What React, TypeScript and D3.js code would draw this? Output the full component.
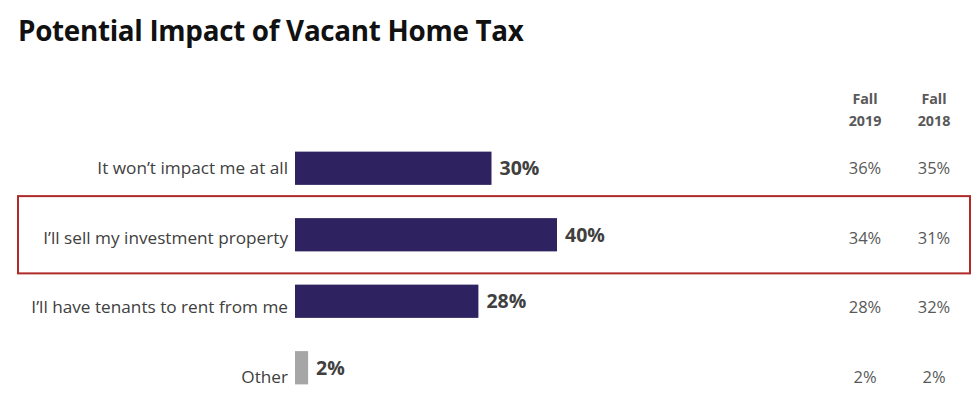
import { useEffect, useRef } from 'react'
import * as d3 from 'd3'

const WIDTH = 980
const HEIGHT = 394

const categories = [
  'It won’t impact me at all',
  'I’ll sell my investment property',
  'I’ll have tenants to rent from me',
  'Other',
]
const currentValues = [30, 40, 28, 2]
const fall2019 = [36, 34, 28, 2]
const fall2018 = [35, 31, 32, 2]
const columnHeaders = [
  ['Fall', '2019'],
  ['Fall', '2018'],
]
const highlighted = 'I’ll sell my investment property'

const FONT = '"Open Sans", Lato, sans-serif'
const BAR_COLOR = '#2e2360'
const OTHER_COLOR = '#a6a6a6'
const TEXT_COLOR = '#404040'

interface RowDatum {
  category: string
  value: number
  fall2019: number
  fall2018: number
}

export default function App() {
  const svgRef = useRef<SVGSVGElement | null>(null)

  useEffect(() => {
    if (!svgRef.current) {
      return
    }

    const svg = d3.select(svgRef.current)
    svg.selectAll('*').remove()

    const rows: RowDatum[] = categories.map((category, index) => ({
      category,
      value: currentValues[index],
      fall2019: fall2019[index],
      fall2018: fall2018[index],
    }))

    const x = d3.scaleLinear().domain([0, 40]).range([295, 557])

    const barY = d3
      .scaleBand<string>()
      .domain(categories)
      .range([135, 401])
      .paddingInner(0.5)
      .paddingOuter(0.25)

    // text rows drift a little lower than the bars in the original slide
    const textY = d3.scalePoint<string>().domain(categories).range([168, 377])

    const columnX = d3
      .scalePoint<string>()
      .domain(['2019', '2018'])
      .range([865, 934])

    svg
      .append('text')
      .attr('x', 18)
      .attr('y', 41)
      .attr('font-family', FONT)
      .attr('font-size', 27.8)
      .attr('font-weight', 700)
      .attr('letter-spacing', -0.3)
      .attr('fill', '#111111')
      .text('Potential Impact of Vacant Home Tax')

    // highlight box
    const box = barY(highlighted) ?? 0
    svg
      .append('rect')
      .attr('x', 18)
      .attr('y', box - 22)
      .attr('width', 952)
      .attr('height', barY.bandwidth() + 44)
      .attr('fill', 'none')
      .attr('stroke', '#b02a2a')
      .attr('stroke-width', 2)

    svg
      .selectAll('rect.bar')
      .data(rows)
      .enter()
      .append('rect')
      .attr('class', 'bar')
      .attr('x', x(0))
      .attr('y', (d: RowDatum) => barY(d.category) ?? 0)
      .attr('width', (d: RowDatum) => x(d.value) - x(0))
      .attr('height', barY.bandwidth())
      .attr('fill', (d: RowDatum) => (d.category === 'Other' ? OTHER_COLOR : BAR_COLOR))

    svg
      .selectAll('text.category')
      .data(rows)
      .enter()
      .append('text')
      .attr('class', 'category')
      .attr('x', 288)
      .attr('y', (d: RowDatum) => (textY(d.category) ?? 0) + 6)
      .attr('text-anchor', 'end')
      .attr('font-family', FONT)
      .attr('font-size', 17.2)
      .attr('fill', TEXT_COLOR)
      .text((d: RowDatum) => d.category)

    svg
      .selectAll('text.value')
      .data(rows)
      .enter()
      .append('text')
      .attr('class', 'value')
      .attr('x', (d: RowDatum) => x(d.value) + 8)
      .attr('y', (d: RowDatum) => (barY(d.category) ?? 0) + barY.bandwidth() / 2 + 7)
      .attr('font-family', FONT)
      .attr('font-size', 19.5)
      .attr('font-weight', 700)
      .attr('fill', TEXT_COLOR)
      .text((d: RowDatum) => `${d.value}%`)

    svg
      .selectAll('text.header')
      .data(columnHeaders)
      .enter()
      .append('text')
      .attr('class', 'header')
      .attr('x', (d: string[]) => columnX(d[1]) ?? 0)
      .attr('text-anchor', 'middle')
      .attr('font-family', FONT)
      .attr('font-size', 14.3)
      .attr('font-weight', 700)
      .attr('fill', '#595959')
      .each(function (d: string[]) {
        const t = d3.select(this)
        t.append('tspan').attr('x', columnX(d[1]) ?? 0).attr('y', 104).text(d[0])
        t.append('tspan').attr('x', columnX(d[1]) ?? 0).attr('y', 126).text(d[1])
      })

    const columns: [string, (d: RowDatum) => number][] = [
      ['2019', (d) => d.fall2019],
      ['2018', (d) => d.fall2018],
    ]
    columns.forEach(([key, accessor]) => {
      svg
        .selectAll(`text.col-${key}`)
        .data(rows)
        .enter()
        .append('text')
        .attr('class', `col-${key}`)
        .attr('x', columnX(key) ?? 0)
        .attr('y', (d: RowDatum) => (textY(d.category) ?? 0) + 6)
        .attr('text-anchor', 'middle')
        .attr('font-family', FONT)
        .attr('font-size', 16.5)
        .attr('fill', '#595959')
        .text((d: RowDatum) => `${accessor(d)}%`)
    })
  }, [])

  return (
    <svg
      ref={svgRef}
      width={WIDTH}
      height={HEIGHT}
      viewBox={`0 0 ${WIDTH} ${HEIGHT}`}
      style={{ position: 'absolute', left: 0, top: 0, background: '#ffffff' }}
      role="img"
      aria-label="Potential impact of vacant home tax"
    />
  )
}
